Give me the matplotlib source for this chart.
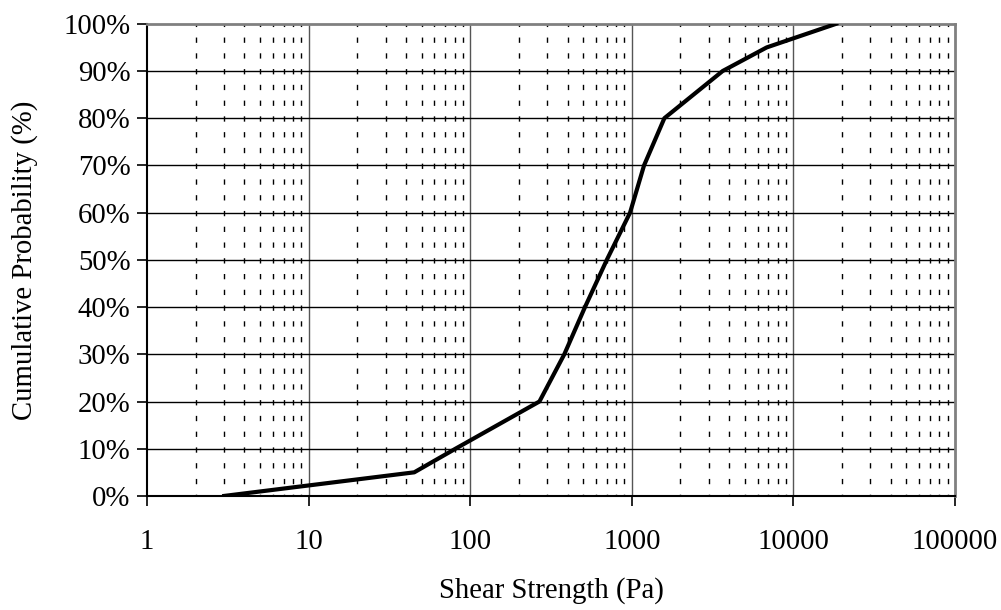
import numpy as np
import matplotlib
matplotlib.use("Agg")
import matplotlib.pyplot as plt
from matplotlib.ticker import FixedLocator, NullFormatter, FuncFormatter

# cumulative distribution
strength = [3, 45, 81, 268, 382, 513, 700, 975, 1190, 1590, 3650, 6840, 18400]
prob     = [0, 5, 10, 20, 30, 40, 50, 60, 70, 80, 90, 95, 100]

xticks = [1, 10, 100, 1000, 10000, 100000]
yticks = np.arange(0, 101, 10)

plt.rcParams['font.family'] = ['Liberation Serif', 'DejaVu Serif']
fs = 20.7

fig = plt.figure(figsize=(10.01, 6.10), dpi=100)
ax = fig.add_axes([0.147, 0.187, 0.807, 0.774])

ax.set_xscale('log')
ax.set_xlim(1, 100000)
ax.set_ylim(0, 100)

# minor dashed verticals
minors = [m * d for d in xticks[:-1] for m in range(2, 10)]
for xm in minors:
    ax.axvline(xm, color='black', lw=1.0, linestyle=(2.5, (3.8, 7.55)), zorder=1)
for xd in xticks[1:-1]:
    ax.axvline(xd, color='#555555', lw=1.0, zorder=1)
for yv in yticks[1:-1]:
    ax.axhline(yv, color='black', lw=1.0, zorder=1)

ax.plot(strength, prob, color='black', lw=3, zorder=3)

ax.xaxis.set_major_locator(FixedLocator(xticks))
ax.xaxis.set_minor_locator(FixedLocator([]))
ax.xaxis.set_minor_formatter(NullFormatter())
ax.xaxis.set_major_formatter(FuncFormatter(lambda v, p: '%d' % v))
ax.set_yticks(yticks)
ax.yaxis.set_major_formatter(FuncFormatter(lambda v, p: '%d%%' % v))

ax.tick_params(axis='both', direction='out', length=7, width=1.2, labelsize=fs, colors='black')
ax.tick_params(axis='x', pad=17)
ax.tick_params(axis='y', pad=5)

for s in ['left', 'bottom']:
    ax.spines[s].set_color('black')
    ax.spines[s].set_linewidth(1.5)
for s in ['top', 'right']:
    ax.spines[s].set_color('#808080')
    ax.spines[s].set_linewidth(2)

ax.set_xlabel('Shear Strength (Pa)', fontsize=fs, labelpad=16)
ax.set_ylabel('Cumulative Probability (%)', fontsize=fs, labelpad=18)

plt.savefig('out.png', dpi=100)
